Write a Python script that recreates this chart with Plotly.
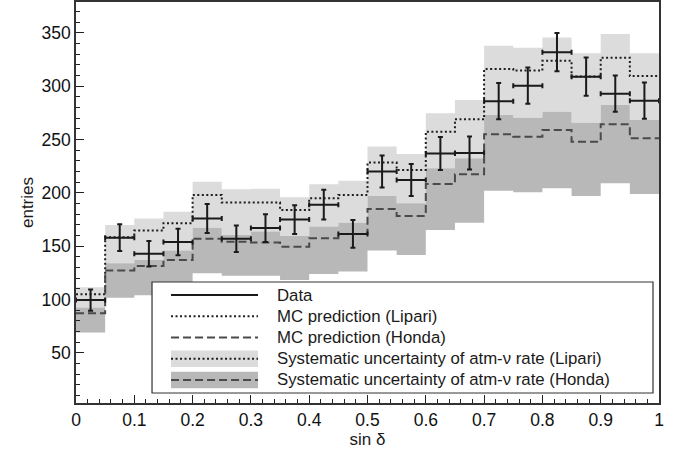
import plotly.graph_objects as go

# ---------------- data ----------------
bin_edges = [0.0, 0.05, 0.1, 0.15, 0.2, 0.25, 0.3, 0.35, 0.4, 0.45, 0.5,
             0.55, 0.6, 0.65, 0.7, 0.75, 0.8, 0.85, 0.9, 0.95, 1.0]
bin_centers = [0.025, 0.075, 0.125, 0.175, 0.225, 0.275, 0.325, 0.375, 0.425, 0.475,
               0.525, 0.575, 0.625, 0.675, 0.725, 0.775, 0.825, 0.875, 0.925, 0.975]
bin_half_width = [0.025] * 20

data_counts = [99.5, 158, 143, 154, 176, 157, 167, 175, 189, 161.5,
               220, 212, 237, 237.5, 286, 300.5, 332, 309, 293, 286.5]
data_errors = [10, 12.5, 12, 12.5, 13.5, 12.5, 13, 13.5, 14, 13,
               15, 15, 15.5, 15.5, 17, 17, 18, 18, 17, 17]

mc_lipari = [105, 158.4, 164.8, 171.6, 198, 190.9, 190.9, 184, 195, 198.1,
             228.4, 221.5, 257.4, 269, 316.2, 314.7, 324, 309.2, 326.8, 309.5]
lipari_band_hi = [111.6, 170, 176, 182.4, 210.5, 203.4, 203.8, 195.9, 208.1, 211.5,
                  243.4, 236.5, 274.6, 287.1, 338, 336.1, 345.8, 330.9, 349, 330.9]

mc_honda = [87.2, 127.3, 131.5, 137, 157.1, 154.3, 153.4, 149.6, 157.5, 161.5,
            185, 178.4, 208.4, 217.5, 255, 252.7, 259, 248, 264.3, 251.2]
honda_band_hi = [92.5, 134, 137.2, 145.9, 167.4, 160.6, 163.7, 159.7, 168.4, 172.1,
                 197.1, 190.3, 223.1, 232.5, 273, 270.5, 276.1, 265.8, 282.4, 268.4]
honda_band_lo = [69, 101.8, 104, 109, 124.6, 122.2, 122.2, 118.4, 124, 126.2,
                 145.9, 141.8, 165.3, 172.1, 202.1, 200.6, 204.4, 197.1, 209, 199]

x_tick_vals = [0, 0.1, 0.2, 0.3, 0.4, 0.5, 0.6, 0.7, 0.8, 0.9, 1.0]
x_tick_text = ["0", "0.1", "0.2", "0.3", "0.4", "0.5", "0.6", "0.7", "0.8", "0.9", "1"]
y_tick_vals = [50, 100, 150, 200, 250, 300, 350]
y_tick_text = ["50", "100", "150", "200", "250", "300", "350"]

legend_labels = ["Data",
                 "MC prediction (Lipari)",
                 "MC prediction (Honda)",
                 "Systematic uncertainty of atm-\u03bd rate (Lipari)",
                 "Systematic uncertainty of atm-\u03bd rate (Honda)"]

# ---------------- styles ----------------
LIGHT = "#dcdcdd"
DARK = "#b8b8b9"
DOT_COLOR = "#1e1e1e"
DASH_COLOR = "#4a4a4a"
DATA_COLOR = "#1a1a1a"
DOT = "2px,2.5px"
DASH = "8px,4px"
FONT = "Liberation Sans, Arial, Helvetica, sans-serif"


def step(vals):
    return list(vals) + [vals[-1]]


fig = go.Figure()

# light band (Lipari systematic), lower part hidden under the Honda band
fig.add_trace(go.Scatter(x=bin_edges, y=step(honda_band_hi), mode="lines",
                         line=dict(width=0, shape="hv"), hoverinfo="skip", showlegend=False))
fig.add_trace(go.Scatter(x=bin_edges, y=step(lipari_band_hi), mode="lines",
                         line=dict(width=0, shape="hv"), fill="tonexty", fillcolor=LIGHT,
                         hoverinfo="skip", showlegend=False))
# dark band (Honda systematic)
fig.add_trace(go.Scatter(x=bin_edges, y=step(honda_band_lo), mode="lines",
                         line=dict(width=0, shape="hv"), hoverinfo="skip", showlegend=False))
fig.add_trace(go.Scatter(x=bin_edges, y=step(honda_band_hi), mode="lines",
                         line=dict(width=0, shape="hv"), fill="tonexty", fillcolor=DARK,
                         hoverinfo="skip", showlegend=False))
# MC predictions
fig.add_trace(go.Scatter(x=bin_edges, y=step(mc_lipari), mode="lines",
                         line=dict(color=DOT_COLOR, width=2, dash=DOT, shape="hv"),
                         showlegend=False))
fig.add_trace(go.Scatter(x=bin_edges, y=step(mc_honda), mode="lines",
                         line=dict(color=DASH_COLOR, width=2, dash=DASH, shape="hv"),
                         showlegend=False))
# data
fig.add_trace(go.Scatter(x=bin_centers, y=data_counts, mode="markers",
                         marker=dict(size=1, color=DATA_COLOR),
                         error_y=dict(type="data", array=data_errors, color=DATA_COLOR,
                                      thickness=2, width=2.5),
                         error_x=dict(type="data", array=bin_half_width, color=DATA_COLOR,
                                      thickness=2, width=2.5),
                         showlegend=False))

# ---------------- legend box (layout decoration) ----------------
shapes = []
annotations = []
bx0, bx1, by0, by1 = 0.1304, 0.9897, 0.0249, 0.3017
shapes.append(dict(type="rect", xref="paper", yref="paper", x0=bx0, x1=bx1, y0=by0, y1=by1,
                   line=dict(color="#333333", width=1.2), fillcolor="white", layer="above"))
row_y = [0.2693, 0.2162, 0.1633, 0.1102, 0.0574]
sx0, sx1 = 0.1630, 0.3122
half_h = 0.0205
styles = [
    (None, DATA_COLOR, "solid"),
    (None, DOT_COLOR, DOT),
    (None, DASH_COLOR, DASH),
    (LIGHT, DOT_COLOR, DOT),
    (DARK, DASH_COLOR, DASH),
]
for yv, (fc, lc, ds), lab in zip(row_y, styles, legend_labels):
    if fc is not None:
        shapes.append(dict(type="rect", xref="paper", yref="paper", x0=sx0, x1=sx1,
                           y0=yv - half_h, y1=yv + half_h, line=dict(width=0),
                           fillcolor=fc, layer="above"))
    shapes.append(dict(type="line", xref="paper", yref="paper", x0=sx0, x1=sx1,
                       y0=yv, y1=yv, line=dict(color=lc, width=2, dash=ds), layer="above"))
    annotations.append(dict(xref="paper", yref="paper", x=0.3405, y=yv, text=lab,
                            showarrow=False, xanchor="left", yanchor="middle",
                            font=dict(family=FONT, size=16.8, color="#1a1a1a")))

fig.update_layout(
    width=683, height=449,
    margin=dict(l=76, r=24, t=2, b=46, pad=0, autoexpand=False),
    paper_bgcolor="white", plot_bgcolor="white",
    font=dict(family=FONT, size=17, color="#1a1a1a"),
    shapes=shapes, annotations=annotations,
    showlegend=False,
)
fig.update_xaxes(range=[0, 1], tickvals=x_tick_vals, ticktext=x_tick_text,
                 ticks="inside", ticklen=8, tickwidth=1.2, tickcolor="#222",
                 minor=dict(dtick=0.02, tick0=0, ticks="inside", ticklen=4,
                            tickwidth=1, tickcolor="#222"),
                 showline=True, linecolor="#333", linewidth=1.5, mirror=True,
                 showgrid=False, zeroline=False, automargin=False,
                 title=dict(text="sin \u03b4", standoff=1, font=dict(size=17)),
                 tickfont=dict(size=17.5, color="#111"))
fig.update_yaxes(range=[3, 379], tickvals=y_tick_vals, ticktext=y_tick_text,
                 ticks="inside", ticklen=8, tickwidth=1.2, tickcolor="#222",
                 minor=dict(dtick=10, tick0=0, ticks="inside", ticklen=4,
                            tickwidth=1, tickcolor="#222"),
                 showline=True, linecolor="#333", linewidth=1.5, mirror=True,
                 showgrid=False, zeroline=False, automargin=False,
                 title=dict(text="entries", standoff=4, font=dict(size=17)),
                 tickfont=dict(size=17.5, color="#111"))

fig.write_html("out.html", config={"displayModeBar": False},
               post_script="document.body.style.margin='0';document.body.style.padding='0';")
